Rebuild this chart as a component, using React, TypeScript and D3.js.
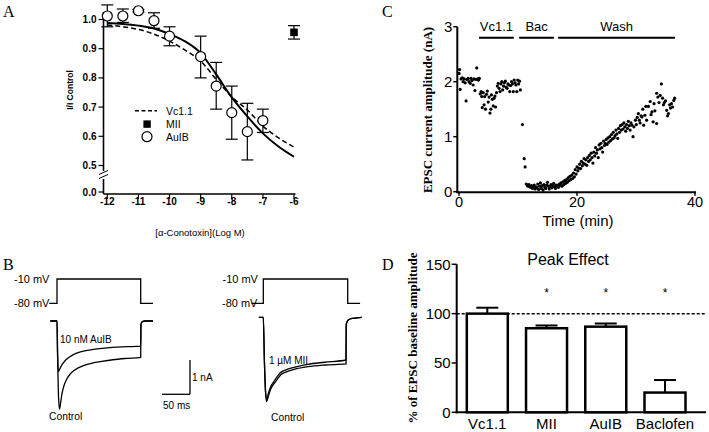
import React from 'react';
import * as d3 from 'd3';

// ---------- Panel A data ----------
const aLogConc = [-12, -11.5, -11, -10.5, -10, -9, -8.5, -8, -7.5, -7];
const aAuIBMean = [1.012, 1.012, 1.03, 0.996, 0.943, 0.873, 0.772, 0.681, 0.616, 0.654];
const aAuIBHi = [1.05, 1.036, 1.034, 1.023, 0.975, 0.943, 0.853, 0.772, 0.713, 0.693];
const aAuIBLo = [0.975, 0.99, 1.026, 0.97, 0.91, 0.8, 0.693, 0.59, 0.519, 0.613];
const aMIIConc = [-6];
const aMIIMean = [0.956];
const aMIIHi = [0.979];
const aMIILo = [0.933];
const aFitConc = [-12, -11.5, -11, -10.5, -10, -9.5, -9, -8.5, -8, -7.5, -7, -6.5, -6];
const aFitAuIB = [0.988, 0.985, 0.979, 0.969, 0.95, 0.925, 0.885, 0.812, 0.733, 0.668, 0.61, 0.565, 0.53];
const aFitVc = [0.981, 0.975, 0.966, 0.95, 0.926, 0.895, 0.858, 0.795, 0.735, 0.69, 0.635, 0.595, 0.563];
const aTicksY = [0.5, 0.6, 0.7, 0.8, 0.9, 1.0];
const aTicksX = [-12, -11, -10, -9, -8, -7, -6];

// ---------- Panel B data (time ms, voltage mV, current nA inward) ----------
const bStepLeft: [number, number][] = [[-14, -80], [0, -80], [0, -10], [150, -10], [150, -80], [172, -80]];
const bStepRight: [number, number][] = [[-21, -80], [0, -80], [0, -10], [150, -10], [150, -80], [172, -80]];
const bCtrlLeft: [number, number][] = [[-12, 0], [0, 0], [1, 1.0], [2.5, 2.1], [4.5, 2.57], [6.5, 2.38], [9, 2.12], [13, 1.86], [18, 1.68], [25, 1.52], [40, 1.35], [60, 1.24], [80, 1.18], [100, 1.13], [125, 1.09], [150, 1.06], [150.4, 0.1], [153, 0.02], [158, 0], [172, 0]];
const bAuIBLeft: [number, number][] = [[-12, 0], [0, 0], [1, 0.9], [2.3, 1.48], [5, 1.4], [8, 1.3], [11, 1.23], [16, 1.13], [23, 1.04], [32, 0.96], [42, 0.9], [65, 0.83], [100, 0.77], [125, 0.75], [150, 0.73], [150.4, 0.1], [153, 0.02], [158, 0], [172, 0]];
const bCtrlRight: [number, number][] = [[-8, 0], [0, 0], [2, 1.3], [4, 2.2], [6, 2.46], [9, 2.3], [13, 2.1], [18.6, 1.95], [25, 1.8], [30.7, 1.68], [40, 1.6], [54.7, 1.52], [78.9, 1.44], [108.8, 1.39], [147, 1.36], [147.4, 0.2], [150, 0.1], [154, 0.05], [160, 0.03], [175, 0]];
const bMIIRight: [number, number][] = [[-8, 0], [0, 0], [2, 1.3], [4, 2.15], [6, 2.4], [9, 2.22], [13, 2.03], [18.6, 1.88], [25, 1.72], [30.7, 1.61], [40, 1.53], [54.7, 1.46], [78.9, 1.37], [108.8, 1.31], [147, 1.245], [147.4, 0.2], [150, 0.1], [154, 0.05], [160, 0.03], [175, 0]];

// ---------- Panel C data (time min, amplitude nA) ----------
const cBaseline: [number, number][] = [[0.0, 2.15], [0.1, 2.22], [0.2, 1.86], [0.35, 2.05], [0.55, 2.07], [0.7, 2.0], [0.9, 2.05], [1.05, 1.98], [1.2, 1.65], [1.35, 2.04], [1.55, 2.06], [1.7, 2.0], [1.9, 1.97], [2.05, 2.06], [2.2, 2.02], [2.4, 1.94], [2.55, 2.05], [2.7, 1.84], [2.85, 2.04], [3.0, 2.25], [3.15, 2.05], [3.3, 2.03]];
const cVc11: [number, number][] = [[3.45, 2.06], [3.6, 1.78], [3.75, 1.82], [3.85, 1.73], [3.95, 1.53], [4.1, 1.8], [4.25, 1.58], [4.35, 1.73], [4.5, 1.5], [4.65, 1.77], [4.8, 1.83], [4.95, 1.63], [5.1, 1.72], [5.25, 1.43], [5.4, 1.5], [5.5, 1.76], [5.65, 1.68], [5.8, 1.56], [5.95, 1.7], [6.1, 1.74], [6.2, 1.54], [6.35, 1.8], [6.5, 1.92], [6.65, 1.97], [6.8, 1.88], [6.95, 1.82], [7.1, 1.96], [7.25, 2.0], [7.4, 1.85], [7.55, 1.92], [7.7, 1.98], [7.85, 2.01], [8.0, 1.9], [8.15, 1.88], [8.3, 1.96], [8.45, 1.94], [8.6, 1.82], [8.75, 1.93], [8.9, 2.0], [9.05, 1.96], [9.2, 1.82], [9.35, 2.03], [9.5, 1.98], [9.65, 1.94], [9.8, 1.82], [9.95, 2.03], [10.1, 1.96], [10.25, 2.01], [10.4, 1.85]];
const cBac: [number, number][] = [[10.75, 1.22], [11.05, 0.6], [11.2, 0.45], [11.4, 0.14], [11.55, 0.12], [11.7, 0.1], [11.85, 0.13], [12.0, 0.09], [12.15, 0.08], [12.3, 0.11], [12.45, 0.06], [12.6, 0.08], [12.75, 0.12], [12.9, 0.05], [13.05, 0.09], [13.2, 0.07], [13.35, 0.14], [13.5, 0.04], [13.65, 0.1], [13.8, 0.16], [13.95, 0.06], [14.1, 0.11], [14.25, 0.03], [14.4, 0.13], [14.55, 0.08], [14.7, 0.06], [14.85, 0.12], [15.0, 0.17], [15.15, 0.1], [15.3, 0.05], [15.45, 0.09], [15.6, 0.13], [15.75, 0.07], [15.9, 0.11], [16.05, 0.15], [16.2, 0.09], [16.35, 0.06], [16.5, 0.12]];
const cWash: [number, number][] = [[16.7, 0.1], [16.85, 0.08], [17.0, 0.14], [17.15, 0.12], [17.3, 0.16], [17.45, 0.1], [17.6, 0.18], [17.75, 0.13], [17.9, 0.2], [18.05, 0.15], [18.2, 0.22], [18.35, 0.17], [18.5, 0.25], [18.65, 0.2], [18.8, 0.28], [18.95, 0.22], [19.1, 0.3], [19.25, 0.24], [19.4, 0.34], [19.55, 0.27], [19.7, 0.4], [19.85, 0.32], [20.0, 0.45], [20.15, 0.38], [20.3, 0.43], [20.45, 0.5], [20.6, 0.42], [20.75, 0.55], [20.9, 0.47], [21.05, 0.52], [21.2, 0.6], [21.35, 0.5], [21.5, 0.58], [21.65, 0.48], [21.8, 0.62], [21.95, 0.55], [22.1, 0.66], [22.25, 0.58], [22.4, 0.7], [22.55, 0.62], [22.7, 0.52], [22.85, 0.72], [23.0, 0.65], [23.15, 0.8], [23.3, 0.7], [23.45, 0.76], [23.6, 0.62], [23.75, 0.85], [23.9, 0.78], [24.05, 0.88], [24.2, 0.8], [24.35, 0.72], [24.5, 0.92], [24.65, 0.84], [24.8, 0.88], [24.95, 0.95], [25.1, 0.86], [25.25, 0.98], [25.4, 0.9], [25.55, 1.0], [25.7, 0.93], [25.85, 1.04], [26.0, 0.96], [26.15, 1.08], [26.3, 0.98], [26.45, 1.02], [26.6, 1.12], [26.75, 1.05], [26.9, 0.97], [27.05, 1.15], [27.2, 1.08], [27.35, 1.2], [27.5, 1.12], [27.65, 1.22], [27.8, 1.14], [27.95, 1.25], [28.1, 1.18], [28.25, 1.1], [28.4, 1.22], [28.55, 1.15], [28.7, 1.28], [28.85, 1.2], [29.0, 1.12], [29.15, 1.25], [29.3, 1.21], [29.5, 1.0], [29.65, 1.18], [29.9, 1.3], [30.05, 1.22], [30.2, 1.35], [30.4, 1.42], [30.55, 1.3], [30.7, 1.25], [30.85, 1.38], [31.0, 1.36], [31.15, 1.5], [31.3, 1.21], [31.5, 1.39], [31.65, 1.55], [31.8, 1.3], [32.1, 1.55], [32.4, 1.64], [32.55, 1.4], [32.7, 1.45], [32.9, 1.27], [33.05, 1.6], [33.2, 1.47], [33.5, 1.79], [33.5, 1.24], [33.7, 1.72], [33.9, 1.62], [34.1, 1.75], [34.3, 1.96], [34.5, 1.7], [34.65, 1.58], [34.8, 1.62], [35.0, 1.65], [35.2, 1.48], [35.35, 1.38], [35.5, 1.42], [35.7, 1.58], [35.85, 1.52], [36.0, 1.6], [36.2, 1.54], [36.4, 1.66], [36.55, 1.7]];
const cPhaseLabels = ['Vc1.1', 'Bac', 'Wash'];
const cPhaseStart = [3.4, 10.2, 16.8];
const cPhaseEnd = [9.3, 16.1, 36.6];
const cTicksY = [0, 1, 2, 3];
const cTicksX = [0, 20, 40];

// ---------- Panel D data ----------
const dCategories = ['Vc1.1', 'MII', 'AuIB', 'Baclofen'];
const dMeans = [100, 85.2, 86.8, 20];
const dSEM = [6, 2.8, 3.2, 12.7];
const dSignificant = [false, true, true, true];
const dTicksY = [0, 50, 100, 150];

const SANS = 'Liberation Sans, Arial, Helvetica, sans-serif';
const SERIF = 'Liberation Serif, Times New Roman, serif';

export default function App() {
  // Panel A scales
  const xA = d3.scaleLinear().domain([-12, -6]).range([107.3, 294]);
  const yA = d3.scaleLinear().domain([0.5, 1.0]).range([165.5, 19.5]);
  const yAZero = 192;
  const axA = 103.5;
  const fitLine = d3.line<number>().x((_, i) => xA(aFitConc[i])).y((d) => yA(d)).curve(d3.curveMonotoneX);

  // Panel B scales
  const xBL = d3.scaleLinear().domain([0, 150]).range([57, 140.7]);
  const xBR = d3.scaleLinear().domain([0, 150]).range([263.3, 347.7]);
  const yV = d3.scaleLinear().domain([-80, -10]).range([303.3, 279]);
  const yIL = d3.scaleLinear().domain([0, 1]).range([321, 355.3]);
  const yIR = d3.scaleLinear().domain([0, 1]).range([317.3, 351.6]);
  const stepL = d3.line<[number, number]>().x((d) => xBL(d[0])).y((d) => yV(d[1]));
  const stepR = d3.line<[number, number]>().x((d) => xBR(d[0])).y((d) => yV(d[1]));
  const curL = d3.line<[number, number]>().x((d) => xBL(d[0])).y((d) => yIL(d[1])).curve(d3.curveMonotoneX);
  const curR = d3.line<[number, number]>().x((d) => xBR(d[0])).y((d) => yIR(d[1])).curve(d3.curveMonotoneX);
  const sbX = 190, sbY = 394.3;
  const sbH = yIL(1) - yIL(0);
  const sbW = xBL(50) - xBL(0);

  // Panel C scales
  const xC = d3.scaleLinear().domain([0, 40]).range([459, 695]);
  const yC = d3.scaleLinear().domain([0, 3]).range([191.7, 26.7]);
  const axC = 457.3;
  const cAll = [...cBaseline, ...cVc11, ...cBac, ...cWash];

  // Panel D scales
  const xD = d3.scalePoint<string>().domain(dCategories).range([487.3, 665]);
  const yD = d3.scaleLinear().domain([0, 150]).range([412.3, 264.3]);
  const axD = 456.7;
  const barW = 41;
  const capW = 22;

  return (
    <svg width={709} height={432} style={{ position: 'absolute', left: 0, top: 0, background: '#fff' }}>
      <rect x={0} y={0} width={709} height={432} fill="#fff" />
      {/* ================= Panel A ================= */}
      <text x={3} y={17} fontFamily={SERIF} fontSize={16}>A</text>
      <line x1={axA} y1={12} x2={axA} y2={171} stroke="#000" strokeWidth={1.6} />
      <line x1={axA} y1={179} x2={axA} y2={194} stroke="#000" strokeWidth={1.6} />
      <line x1={99} y1={174.5} x2={108} y2={170.5} stroke="#000" strokeWidth={1} />
      <line x1={99} y1={178.5} x2={108} y2={174.5} stroke="#000" strokeWidth={1} />
      <line x1={axA} y1={194} x2={295.5} y2={194} stroke="#000" strokeWidth={1.6} />
      {aTicksY.map((t) => (
        <g key={'ay' + t}>
          <line x1={axA - 5} x2={axA} y1={yA(t)} y2={yA(t)} stroke="#000" strokeWidth={1.2} />
          <text x={axA - 7} y={yA(t) + 3.5} textAnchor="end" fontFamily={SANS} fontSize={10} fontWeight="bold">{t.toFixed(1)}</text>
        </g>
      ))}
      <line x1={axA - 5} x2={axA} y1={yAZero} y2={yAZero} stroke="#000" strokeWidth={1.2} />
      <text x={axA - 7} y={yAZero + 3.5} textAnchor="end" fontFamily={SANS} fontSize={10} fontWeight="bold">0.0</text>
      {aTicksX.map((t) => (
        <g key={'ax' + t}>
          <line x1={xA(t)} x2={xA(t)} y1={194} y2={199} stroke="#000" strokeWidth={1.2} />
          <text x={xA(t)} y={205} textAnchor="middle" fontFamily={SANS} fontSize={10} fontWeight="bold">{t}</text>
        </g>
      ))}
      <text x={200} y={236} textAnchor="middle" fontFamily={SANS} fontSize={9.5}>[α-Conotoxin](Log M)</text>
      <text transform="translate(73,90) rotate(-90)" textAnchor="middle" fontFamily={SANS} fontSize={8.5} fontWeight="bold">I/I Control</text>
      <path d={fitLine(aFitVc) || ''} fill="none" stroke="#000" strokeWidth={1.5} strokeDasharray="5,3" />
      <path d={fitLine(aFitAuIB) || ''} fill="none" stroke="#000" strokeWidth={2} />
      {aLogConc.map((c, i) => (
        <g key={'ae' + i} stroke="#000" strokeWidth={1.2}>
          <line x1={xA(c)} x2={xA(c)} y1={yA(aAuIBHi[i])} y2={yA(aAuIBLo[i])} />
          <line x1={xA(c) - 6} x2={xA(c) + 6} y1={yA(aAuIBHi[i])} y2={yA(aAuIBHi[i])} />
          <line x1={xA(c) - 6} x2={xA(c) + 6} y1={yA(aAuIBLo[i])} y2={yA(aAuIBLo[i])} />
        </g>
      ))}
      {aLogConc.map((c, i) => (
        <circle key={'ac' + i} cx={xA(c)} cy={yA(aAuIBMean[i])} r={5} fill="#fff" stroke="#000" strokeWidth={1.2} />
      ))}
      {aMIIConc.map((c, i) => (
        <g key={'am' + i}>
          <line x1={xA(c)} x2={xA(c)} y1={yA(aMIIHi[i])} y2={yA(aMIILo[i])} stroke="#000" strokeWidth={1.2} />
          <line x1={xA(c) - 6} x2={xA(c) + 6} y1={yA(aMIIHi[i])} y2={yA(aMIIHi[i])} stroke="#000" strokeWidth={1.2} />
          <line x1={xA(c) - 6} x2={xA(c) + 6} y1={yA(aMIILo[i])} y2={yA(aMIILo[i])} stroke="#000" strokeWidth={1.2} />
          <rect x={xA(c) - 3.8} y={yA(aMIIMean[i]) - 3.8} width={7.6} height={7.6} fill="#000" />
        </g>
      ))}
      <line x1={135} x2={157} y1={110.7} y2={110.7} stroke="#000" strokeWidth={1.5} strokeDasharray="4,2.5" />
      <text x={166} y={114.5} fontFamily={SANS} fontSize={10.5}>Vc1.1</text>
      <rect x={143.4} y={120.4} width={7.4} height={7.4} fill="#000" />
      <text x={166} y={128} fontFamily={SANS} fontSize={10.5}>MII</text>
      <circle cx={147} cy={136.7} r={5} fill="#fff" stroke="#000" strokeWidth={1.2} />
      <text x={166} y={140.5} fontFamily={SANS} fontSize={10.5}>AuIB</text>

      {/* ================= Panel B ================= */}
      <text x={3} y={270} fontFamily={SERIF} fontSize={16}>B</text>
      <text x={14} y={283} fontFamily={SANS} fontSize={11}>-10 mV</text>
      <text x={14} y={307} fontFamily={SANS} fontSize={11}>-80 mV</text>
      <path d={stepL(bStepLeft) || ''} fill="none" stroke="#000" strokeWidth={1.3} />
      <path d={curL(bCtrlLeft) || ''} fill="none" stroke="#000" strokeWidth={1.3} />
      <path d={curL(bAuIBLeft) || ''} fill="none" stroke="#000" strokeWidth={1.3} />
      <text x={60} y={343} fontFamily={SANS} fontSize={10}>10 nM AuIB</text>
      <text x={49} y={420} fontFamily={SANS} fontSize={10.3}>Control</text>
      <line x1={sbX} x2={sbX} y1={sbY - sbH} y2={sbY} stroke="#000" strokeWidth={1.3} />
      <line x1={sbX - sbW} x2={sbX} y1={sbY} y2={sbY} stroke="#000" strokeWidth={1.3} />
      <text x={192} y={381} fontFamily={SANS} fontSize={10}>1 nA</text>
      <text x={163} y={409} fontFamily={SANS} fontSize={10}>50 ms</text>

      <text x={222.5} y={283} fontFamily={SANS} fontSize={11}>-10 mV</text>
      <text x={222} y={307} fontFamily={SANS} fontSize={11}>-80 mV</text>
      <path d={stepR(bStepRight) || ''} fill="none" stroke="#000" strokeWidth={1.3} />
      <path d={curR(bCtrlRight) || ''} fill="none" stroke="#000" strokeWidth={1.3} />
      <path d={curR(bMIIRight) || ''} fill="none" stroke="#000" strokeWidth={1.3} />
      <text x={269} y={363.5} fontFamily={SANS} fontSize={10}>1 µM MII</text>
      <text x={271} y={420.5} fontFamily={SANS} fontSize={10.3}>Control</text>

      {/* ================= Panel C ================= */}
      <text x={382} y={17} fontFamily={SERIF} fontSize={16}>C</text>
      <line x1={axC} x2={axC} y1={yC(3)} y2={yC(0) + 1} stroke="#000" strokeWidth={2} />
      <line x1={axC - 1} x2={696} y1={yC(0) + 0.6} y2={yC(0) + 0.6} stroke="#000" strokeWidth={2} />
      {cTicksY.map((t) => (
        <g key={'cy' + t}>
          <line x1={axC - 4} x2={axC} y1={yC(t)} y2={yC(t)} stroke="#000" strokeWidth={1.5} />
          <text x={axC - 5} y={yC(t) + 5.5} textAnchor="end" fontFamily={SANS} fontSize={15}>{t}</text>
        </g>
      ))}
      {cTicksX.map((t) => (
        <g key={'cx' + t}>
          <line x1={xC(t)} x2={xC(t)} y1={yC(0)} y2={yC(0) + 4} stroke="#000" strokeWidth={1.5} />
          <text x={xC(t)} y={yC(0) + 15.5} textAnchor="middle" fontFamily={SANS} fontSize={14.5}>{t}</text>
        </g>
      ))}
      <text x={578} y={226} textAnchor="middle" fontFamily={SANS} fontSize={15}>Time (min)</text>
      <text transform="translate(432,110) rotate(-90)" textAnchor="middle" fontFamily={SERIF} fontSize={13} fontWeight="bold">EPSC current amplitude (nA)</text>
      {cPhaseLabels.map((l, i) => (
        <g key={'cp' + i}>
          <line x1={xC(cPhaseStart[i])} x2={xC(cPhaseEnd[i])} y1={yC(2.8)} y2={yC(2.8)} stroke="#000" strokeWidth={2} />
          <text x={(xC(cPhaseStart[i]) + xC(cPhaseEnd[i])) / 2} y={yC(2.8) - 6.5} textAnchor="middle" fontFamily={SANS} fontSize={13}>{l}</text>
        </g>
      ))}
      {cAll.map((d, i) => (
        <circle key={'cd' + i} cx={xC(d[0])} cy={yC(d[1])} r={1.6} fill="#000" />
      ))}

      {/* ================= Panel D ================= */}
      <text x={382} y={270} fontFamily={SERIF} fontSize={16}>D</text>
      <text x={568} y={264.5} textAnchor="middle" fontFamily={SANS} fontSize={16}>Peak Effect</text>
      <line x1={axD} x2={axD} y1={yD(150)} y2={yD(0) + 1} stroke="#000" strokeWidth={2} />
      <line x1={axD - 1} x2={706} y1={yD(0)} y2={yD(0)} stroke="#000" strokeWidth={2} />
      {dTicksY.map((t) => (
        <g key={'dy' + t}>
          <line x1={axD - 5} x2={axD} y1={yD(t)} y2={yD(t)} stroke="#000" strokeWidth={1.5} />
          <text x={axD - 6} y={yD(t) + 5.5} textAnchor="end" fontFamily={SANS} fontSize={15}>{t}</text>
        </g>
      ))}
      <text transform="translate(417,338) rotate(-90)" textAnchor="middle" fontFamily={SERIF} fontSize={13} fontWeight="bold">% of EPSC baseline amplitude</text>
      <line x1={axD} x2={706} y1={yD(100)} y2={yD(100)} stroke="#000" strokeWidth={1.5} strokeDasharray="3,2" />
      {dCategories.map((c, i) => {
        const cx = xD(c) as number;
        const top = yD(dMeans[i]);
        const et = yD(dMeans[i] + dSEM[i]);
        return (
          <g key={'db' + i}>
            <line x1={cx} x2={cx} y1={et} y2={top} stroke="#000" strokeWidth={2} />
            <line x1={cx - capW / 2} x2={cx + capW / 2} y1={et} y2={et} stroke="#000" strokeWidth={2} />
            <rect x={cx - barW / 2} y={top} width={barW} height={yD(0) - top} fill="#fff" stroke="#000" strokeWidth={2.5} />
            {dSignificant[i] && (
              <text x={cx} y={yD(124) + 7} textAnchor="middle" fontFamily={SANS} fontSize={12}>*</text>
            )}
            <text x={cx} y={429} textAnchor="middle" fontFamily={SANS} fontSize={15}>{c}</text>
          </g>
        );
      })}
    </svg>
  );
}
